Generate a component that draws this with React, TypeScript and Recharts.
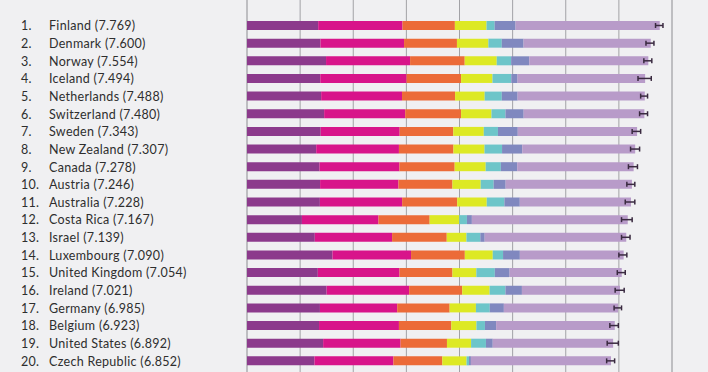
import React from 'react';
import { BarChart, Bar, XAxis, YAxis, CartesianGrid, ErrorBar } from 'recharts';

const countries = [
  'Finland', 'Denmark', 'Norway', 'Iceland', 'Netherlands', 'Switzerland', 'Sweden',
  'New Zealand', 'Canada', 'Austria', 'Australia', 'Costa Rica', 'Israel', 'Luxembourg',
  'United Kingdom', 'Ireland', 'Germany', 'Belgium', 'United States', 'Czech Republic',
];
const totals = [7.769, 7.6, 7.554, 7.494, 7.488, 7.48, 7.343, 7.307, 7.278, 7.246, 7.228, 7.167, 7.139, 7.09, 7.054, 7.021, 6.985, 6.923, 6.892, 6.852];

const gdp = [1.34, 1.383, 1.488, 1.38, 1.396, 1.452, 1.387, 1.303, 1.365, 1.376, 1.372, 1.034, 1.276, 1.609, 1.333, 1.499, 1.373, 1.356, 1.433, 1.269];
const social = [1.587, 1.573, 1.582, 1.624, 1.522, 1.526, 1.487, 1.557, 1.505, 1.475, 1.548, 1.441, 1.455, 1.479, 1.538, 1.553, 1.454, 1.504, 1.457, 1.487];
const health = [0.986, 0.996, 1.028, 1.026, 0.999, 1.052, 1.009, 1.026, 1.039, 1.016, 1.036, 0.963, 1.029, 1.012, 0.996, 0.999, 0.987, 0.986, 0.874, 0.92];
const freedom = [0.596, 0.592, 0.603, 0.591, 0.557, 0.572, 0.574, 0.585, 0.584, 0.532, 0.557, 0.558, 0.371, 0.526, 0.45, 0.516, 0.495, 0.473, 0.454, 0.457];
const generosity = [0.153, 0.252, 0.271, 0.354, 0.322, 0.263, 0.267, 0.33, 0.285, 0.244, 0.332, 0.144, 0.261, 0.194, 0.348, 0.298, 0.261, 0.16, 0.28, 0.046];
const corruption = [0.393, 0.41, 0.341, 0.118, 0.298, 0.343, 0.373, 0.38, 0.308, 0.226, 0.29, 0.093, 0.082, 0.316, 0.278, 0.31, 0.265, 0.21, 0.128, 0.036];
const dystopia = [2.714, 2.394, 2.241, 2.401, 2.394, 2.272, 2.246, 2.126, 2.192, 2.377, 2.093, 2.934, 2.665, 1.954, 2.111, 1.846, 2.15, 2.234, 2.266, 2.637];

// 95% confidence bounds
const ciLow = [7.69, 7.51, 7.47, 7.36, 7.41, 7.39, 7.25, 7.22, 7.18, 7.15, 7.12, 7.05, 7.05, 7.0, 6.97, 6.93, 6.91, 6.83, 6.78, 6.77];
const ciHigh = [7.83, 7.66, 7.62, 7.61, 7.54, 7.54, 7.41, 7.39, 7.35, 7.3, 7.3, 7.25, 7.21, 7.15, 7.12, 7.1, 7.05, 6.99, 6.99, 6.92];

const innerTicks = [1, 2, 3, 4, 5, 6, 7];
const edgeTicks = [0, 8];

const data = countries.map((name, i) => ({
  name,
  rank: i + 1,
  total: totals[i],
  gdp: gdp[i],
  social: social[i],
  health: health[i],
  freedom: freedom[i],
  generosity: generosity[i],
  corruption: corruption[i],
  dystopia: dystopia[i],
  err: [totals[i] - ciLow[i], ciHigh[i] - totals[i]],
}));

const series = [
  { key: 'gdp', color: '#8c3a8c' },
  { key: 'social', color: '#d8148a' },
  { key: 'health', color: '#ec6b38' },
  { key: 'freedom', color: '#dde924' },
  { key: 'generosity', color: '#6dc5c9' },
  { key: 'corruption', color: '#8088bf' },
  { key: 'dystopia', color: '#b89bc9' },
];

const CountryTick = ({ y, payload }: any) => {
  const row = data.find((d) => d.name === payload.value);
  if (!row) return null;
  const font = { fontSize: 12.5, fill: '#2e2e2e', fontFamily: 'Lato, sans-serif', letterSpacing: 0.3 };
  return (
    <g>
      <text x={21} y={y} dy="0.36em" {...font}>
        {`${row.rank}.`}
      </text>
      <text x={49} y={y} dy="0.36em" {...font}>
        {`${row.name} (${row.total.toFixed(3)})`}
      </text>
    </g>
  );
};

export default function App() {
  return (
    <div style={{ position: 'absolute', left: 0, top: 0, width: 708, height: 372, background: '#f0f0f2' }}>
      <BarChart
        width={708}
        height={372}
        data={data}
        layout="vertical"
        margin={{ top: 0, right: 36, bottom: 0, left: 0 }}
        barSize={9}
      >
        <CartesianGrid horizontal={false} stroke="#c4c4c8" xAxisId="edge" />
        <CartesianGrid horizontal={false} stroke="#a2a2a6" />
        <XAxis type="number" domain={[0, 8]} ticks={innerTicks} hide />
        <XAxis xAxisId="edge" type="number" domain={[0, 8]} ticks={edgeTicks} hide />
        <YAxis
          type="category"
          dataKey="name"
          width={247}
          axisLine={false}
          tickLine={false}
          padding={{ top: 17, bottom: 2 }}
          tick={<CountryTick />}
          interval={0}
        />
        {series.map((s) => (
          <Bar key={s.key} dataKey={s.key} stackId="a" fill={s.color} isAnimationActive={false}>
            {s.key === 'dystopia' && (
              <ErrorBar dataKey="err" direction="x" width={2.5} stroke="#3a2a40" strokeWidth={1.5} />
            )}
          </Bar>
        ))}
      </BarChart>
    </div>
  );
}
